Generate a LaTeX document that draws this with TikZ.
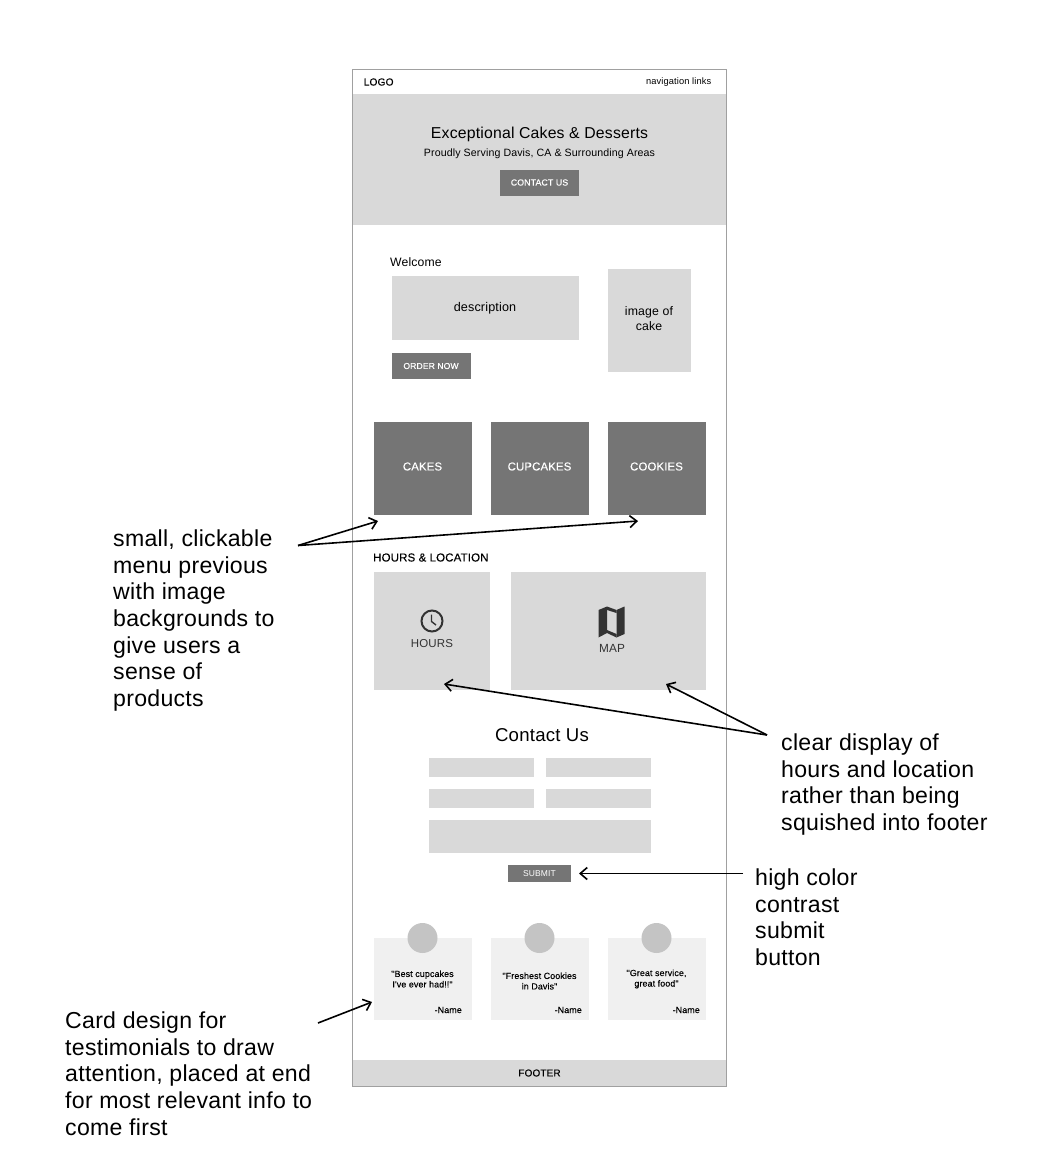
\documentclass[tikz,border=0pt]{standalone}
\usepackage{fontspec}
\setmainfont[LetterSpace=1.2]{Liberation Sans}
\newfontfamily\medf[LetterSpace=1.2,FakeBold=0.25]{Liberation Sans}
\usetikzlibrary{arrows.meta}
\definecolor{lightbox}{HTML}{D9D9D9}
\definecolor{darkbox}{HTML}{757575}
\definecolor{cardbg}{HTML}{F0F0F0}
\definecolor{avatar}{HTML}{C4C4C4}
\definecolor{iconc}{HTML}{333333}
\definecolor{framec}{HTML}{A0A0A0}
\tikzset{
  x=1pt,y=-1pt,
  box/.style={fill=lightbox,draw=none},
  dark/.style={fill=darkbox,draw=none},
  label/.style={inner sep=0pt,align=center},
  note/.style={inner sep=0pt,align=left,anchor=north west,font=\fontsize{23.1}{26.7}\selectfont},
  q/.style={label,font=\fontsize{8.9}{10.5}\selectfont\medf},
  arrowline/.style={draw=black,line width=1.6pt,-{Straight Barb[length=7pt,width=12pt,line width=1.6pt]}}
}
\newcommand{\rectfill}[5][box]{\path[#1] (#2,#3) rectangle (#4,#5);}
\begin{document}
\begin{tikzpicture}
\useasboundingbox (0,0) rectangle (1052,1170);
\fill[white] (0,0) rectangle (1052,1170);
% hero and footer
\rectfill{353}{94}{726}{225}
\rectfill{353}{1060}{726}{1086}
\draw[framec,line width=0.9pt] (352.5,69.5) rectangle (726.5,1086.5);
\node[label,anchor=west,font=\fontsize{10.2}{12}\selectfont\medf] (logo) at (363.5,82) {LOGO};
\node[label,anchor=east,font=\fontsize{9.3}{12}\selectfont] (nav) at (711.5,82.5) {navigation links};
\node[label,font=\fontsize{15.8}{18}\selectfont] (title) at (539.5,134.5) {Exceptional Cakes \& Desserts};
\node[label,font=\fontsize{10.6}{13}\selectfont] (sub) at (539.5,153.5) {Proudly Serving Davis, CA \& Surrounding Areas};
\rectfill[dark]{500}{170}{579}{195.5}
\node[label,text=white,font=\fontsize{8.8}{11}\selectfont\medf] (contactbtn) at (539.5,182.5) {CONTACT US};
% welcome
\node[label,anchor=west,font=\fontsize{12.2}{14}\selectfont] (welcome) at (390,262.5) {Welcome};
\rectfill{391.5}{276}{579}{340}
\node[label,font=\fontsize{12.6}{14}\selectfont] (desc) at (485,308.5) {description};
\rectfill{607.5}{268.5}{691}{372}
\node[label,font=\fontsize{12.3}{14.5}\selectfont] (cakeimg) at (649,318.5) {image of\\cake};
\rectfill[dark]{391.5}{353}{470.5}{379}
\node[label,text=white,font=\fontsize{8.6}{11}\selectfont\medf] (orderbtn) at (431,366) {ORDER NOW};
% tiles
\rectfill[dark]{373.5}{422}{472}{515}
\rectfill[dark]{490.5}{422}{589}{515}
\rectfill[dark]{607.5}{422}{706}{515}
\node[label,text=white,font=\fontsize{11.4}{14}\selectfont\medf] (cakes) at (422.5,466.5) {CAKES};
\node[label,text=white,font=\fontsize{11.4}{14}\selectfont\medf] (cupcakes) at (539.5,466.5) {CUPCAKES};
\node[label,text=white,font=\fontsize{11.4}{14}\selectfont\medf] (cookies) at (656.5,466.5) {COOKIES};
% hours and location
\node[label,anchor=west,font=\fontsize{11.5}{14}\selectfont\medf] (hl) at (373,557.5) {HOURS \& LOCATION};
\rectfill{373.5}{572}{490}{689.5}
\rectfill{511}{572}{706}{689.5}
\draw[iconc,line width=2pt] (432,621) circle (10.5);
\draw[iconc,line width=1.4pt] (431.5,614.5) -- (431.5,621.5) -- (436,625);
\node[label,text=iconc,font=\fontsize{11.5}{14}\selectfont] (hours) at (432,643.5) {HOURS};
\fill[iconc] (598.5,610) -- (607,606.5) -- (607,633) -- (598.5,637.5) -- cycle;
\fill[iconc] (616.5,610) -- (624.5,606.5) -- (624.5,634) -- (616.5,637.5) -- cycle;
\fill[iconc] (607,606.5) -- (616.5,610) -- (616.5,613) -- (607,610) -- cycle;
\fill[iconc] (607,630) -- (616.5,634) -- (616.5,637.5) -- (607,633) -- cycle;
\node[label,text=iconc,font=\fontsize{11.8}{14}\selectfont] (map) at (612,648.5) {MAP};
% contact form
\node[label,font=\fontsize{18.6}{20}\selectfont] (contact) at (542,735.5) {Contact Us};
\rectfill{429}{758}{533.5}{777}
\rectfill{546}{758}{650.5}{777}
\rectfill{429}{789}{533.5}{808}
\rectfill{546}{789}{650.5}{808}
\rectfill{429}{820}{650.5}{853}
\rectfill[dark]{508}{865}{571}{881.5}
\node[label,text=white,font=\fontsize{8.5}{10}\selectfont] (submit) at (539.5,873.5) {SUBMIT};
% testimonial cards
\fill[cardbg] (373.5,938) rectangle (472,1020);
\fill[cardbg] (490.5,938) rectangle (589,1020);
\fill[cardbg] (607.5,938) rectangle (706,1020);
\fill[avatar] (422.5,938) circle (15);
\fill[avatar] (539.5,938) circle (15);
\fill[avatar] (656.5,938) circle (15);
\node[q] (q1) at (422.5,979) {"Best cupcakes\\I've ever had!!"};
\node[q] (q2) at (539.5,981) {"Freshest Cookies\\in Davis"};
\node[q] (q3) at (656.5,979) {"Great service,\\great food"};
\node[q,anchor=east] (n1) at (462,1010) {-Name};
\node[q,anchor=east] (n2) at (582,1010) {-Name};
\node[q,anchor=east] (n3) at (700,1010) {-Name};
\node[label,font=\fontsize{10}{12}\selectfont\medf] (footer) at (539.5,1073) {FOOTER};
% annotations
\node[note] (n-menu) at (113,529.5) {small, clickable\\menu previous\\with image\\backgrounds to\\give users a\\sense of\\products};
\node[note] (n-clear) at (781,733.5) {clear display of\\hours and location\\rather than being\\squished into footer};
\node[note] (n-submit) at (755,868.5) {high color\\contrast\\submit\\button};
\node[note] (n-card) at (65,1011.5) {Card design for\\testimonials to draw\\attention, placed at end\\for most relevant info to\\come first};
% arrow anchors
\coordinate (a-menu) at (298,545.5);
\coordinate (t-cakes) at (378,521);
\coordinate (t-cookies) at (638,521);
\coordinate (a-clear) at (767,735);
\coordinate (t-hours) at (444,684);
\coordinate (t-map) at (666,684);
\coordinate (a-submit) at (743,873.5);
\coordinate (t-submit) at (579,873.5);
\coordinate (a-card) at (318,1023);
\coordinate (t-card) at (372,1002);
\draw[arrowline] (a-menu) -- (t-cakes);
\draw[arrowline] (a-menu) -- (t-cookies);
\draw[arrowline] (a-clear) -- (t-hours);
\draw[arrowline] (a-clear) -- (t-map);
\draw[arrowline] (a-submit) -- (t-submit);
\draw[arrowline] (a-card) -- (t-card);
\end{tikzpicture}
\end{document}
